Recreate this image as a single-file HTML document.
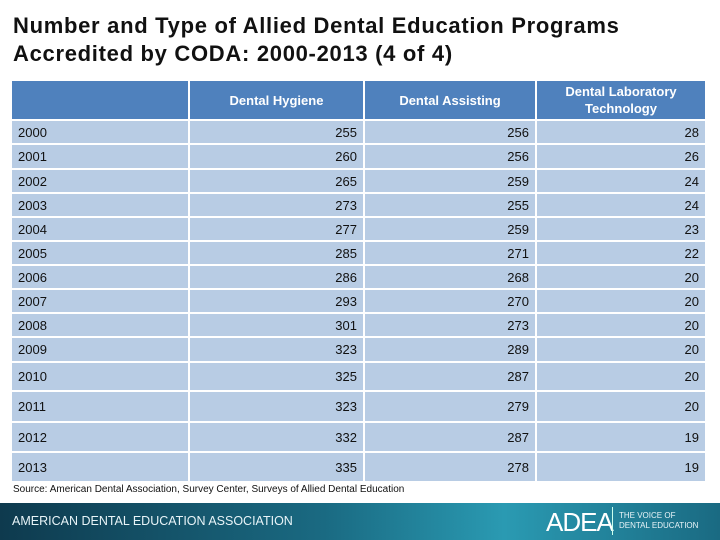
<!DOCTYPE html>
<html><head><meta charset="utf-8"><style>
body{margin:0;width:720px;height:540px;position:relative;background:#fff;font-family:"Liberation Sans",Arial,sans-serif;overflow:hidden}
.c{position:absolute;box-sizing:border-box;font-size:13px;color:#111;display:flex;align-items:center}
.h{background:#4F81BD;color:#fff;font-weight:bold;justify-content:center;text-align:center;font-size:13px;line-height:17px}
.b{background:#B8CCE4}
.r{justify-content:flex-end;padding-right:6px}
.l{padding-left:6px}
</style></head><body>
<div style="position:absolute;left:13px;top:12px;font-size:22px;font-weight:bold;line-height:28px;color:#111;letter-spacing:0.7px">Number and Type of Allied Dental Education Programs<br>Accredited by CODA: 2000-2013 (4 of 4)</div>
<div id="tbl"></div>
<div style="position:absolute;left:13px;top:484px;font-size:10px;color:#111">Source: American Dental Association, Survey Center, Surveys of Allied Dental Education</div>
<div style="position:absolute;left:0;top:503px;width:720px;height:37px;background:linear-gradient(90deg,#0e3a4e 0%,#1a6a82 45%,#2a9ab2 70%,#1a6a82 100%)">
<div style="position:absolute;left:12px;top:11px;color:#e8f4f8;font-size:12.5px;letter-spacing:0px">AMERICAN DENTAL EDUCATION ASSOCIATION</div>
<div style="position:absolute;left:546px;top:4px;color:#fff;font-size:26px;letter-spacing:-1px">ADEA</div>
<div style="position:absolute;left:612px;top:4px;width:1px;height:28px;background:#cfe"></div>
<div style="position:absolute;left:619px;top:8px;color:#e8f4f8;font-size:8px;line-height:10px">THE VOICE OF<br>DENTAL EDUCATION</div>
</div>
<script>
const years=["2000","2001","2002","2003","2004","2005","2006","2007","2008","2009","2010","2011","2012","2013"];
const hygiene=[255,260,265,273,277,285,286,293,301,323,325,323,332,335];
const assisting=[256,256,259,255,259,271,268,270,273,289,287,279,287,278];
const labTech=[28,26,24,24,23,22,20,20,20,20,20,20,19,19];
const headers=["","Dental Hygiene","Dental Assisting","Dental Laboratory<br>Technology"];
const colX=[12,190,365,537,707];
const rowTops=[121,145,170,194,218,242,266,290,314,338,363,392,423,453,483];
const t=document.getElementById('tbl');
function cell(cls,x0,x1,y0,y1,html){
 const d=document.createElement('div');
 d.className='c '+cls;
 d.style.left=x0+'px';d.style.width=(x1-x0-2)+'px';
 d.style.top=y0+'px';d.style.height=(y1-y0-2)+'px';
 d.innerHTML=html;t.appendChild(d);return d;
}
headers.forEach((h,i)=>{
 const d=cell('h',colX[i],colX[i+1],81,rowTops[0],h);
 
 
});
years.forEach((y,r)=>{
 const vals=[y,hygiene[r],assisting[r],labTech[r]];
 vals.forEach((v,i)=>{
  const d=cell('b '+(i==0?'l':'r'),colX[i],colX[i+1],rowTops[r],rowTops[r+1],String(v));
  
  
 });
});
</script>
</body></html>
